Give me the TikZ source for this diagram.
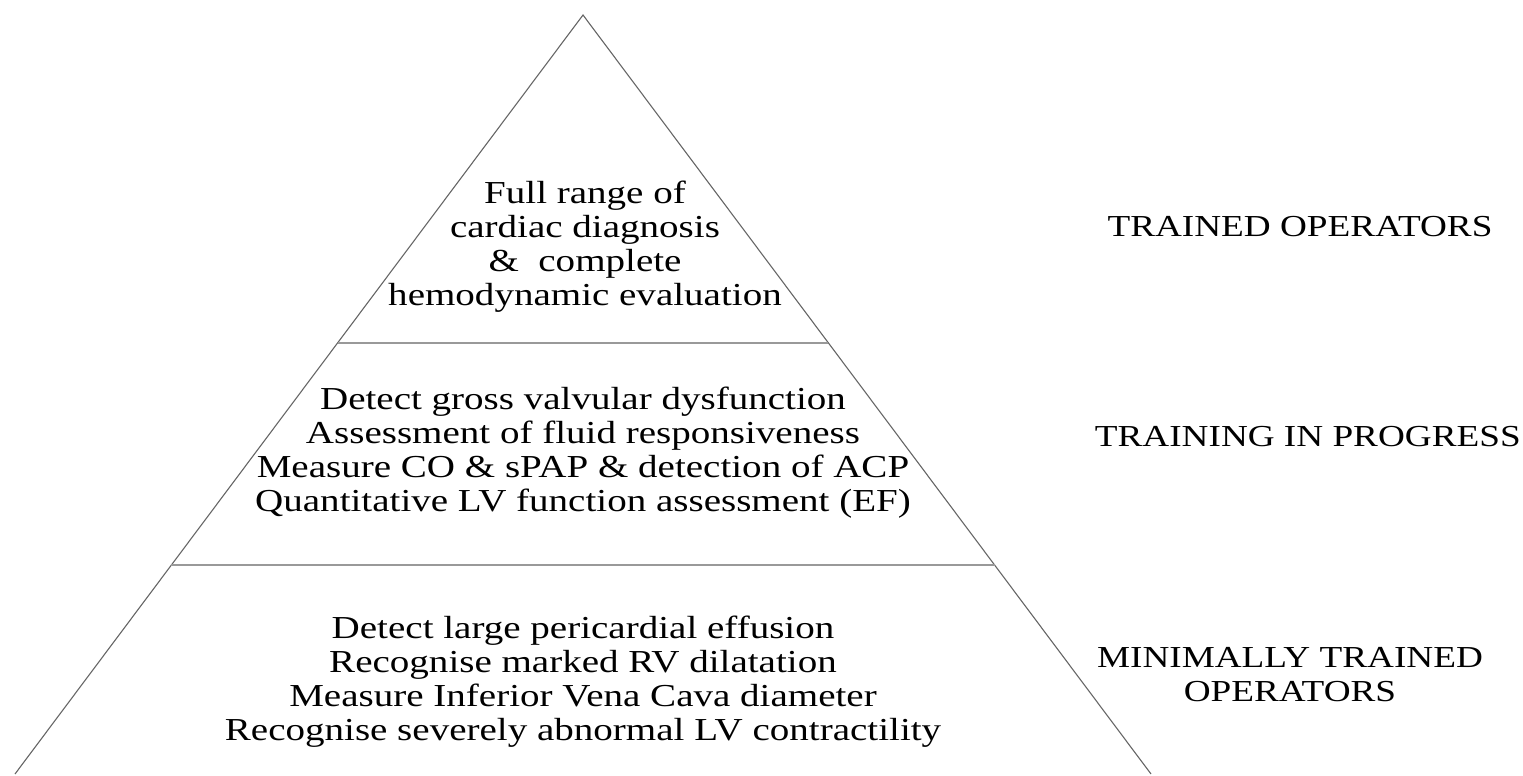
\documentclass[tikz,border=0pt]{standalone}
\usepackage{fontspec}
\setmainfont[FakeStretch=1.22]{Liberation Serif}
\usetikzlibrary{calc}

\tikzset{
  edge/.style={draw=black!60, line width=1.1pt},
  tier/.style={draw=black!40, line width=2pt},
  txt/.style={align=center, inner sep=0pt, font=\fontsize{32}{34}\selectfont},
  lbl/.style={align=center, inner sep=0pt, font=\fontsize{30.5}{34}\selectfont}
}

\begin{document}
\begin{tikzpicture}[x=1pt, y=-1pt]
  \useasboundingbox (0,0) rectangle (1523,776);

  \coordinate (apex) at (583,15);
  \coordinate (bl)   at (15,774);
  \coordinate (br)   at (1151,774);
  \coordinate (t1l) at ($(apex)!0.432!(bl)$);
  \coordinate (t1r) at ($(apex)!0.432!(br)$);
  \coordinate (t2l) at ($(apex)!0.7246!(bl)$);
  \coordinate (t2r) at ($(apex)!0.7246!(br)$);

  \draw[edge] (bl) -- (apex) -- (br); %
  \draw[tier] (t1l) -- (t1r); %
  \draw[tier] (t2l) -- (t2r); %

  \node[txt] (top) at (585,247) {Full range of\\cardiac diagnosis\\\&\ \ complete\\hemodynamic evaluation};
  \node[txt] (mid) at (583,453) {Detect gross valvular dysfunction\\Assessment of fluid responsiveness\\Measure CO \& sPAP \& detection of ACP\\Quantitative LV function assessment (EF)};
  \node[txt] (low) at (583,682) {Detect large pericardial effusion\\Recognise marked RV dilatation\\Measure Inferior Vena Cava diameter\\Recognise severely abnormal LV contractility};

  \node[lbl] (trained)  at (1300,227) {TRAINED OPERATORS};
  \node[lbl, anchor=east] (progress) at (1521,437) {TRAINING IN PROGRESS};
  \node[lbl] (minimal)  at (1290,675) {MINIMALLY TRAINED\\OPERATORS};

\end{tikzpicture}
\end{document}
